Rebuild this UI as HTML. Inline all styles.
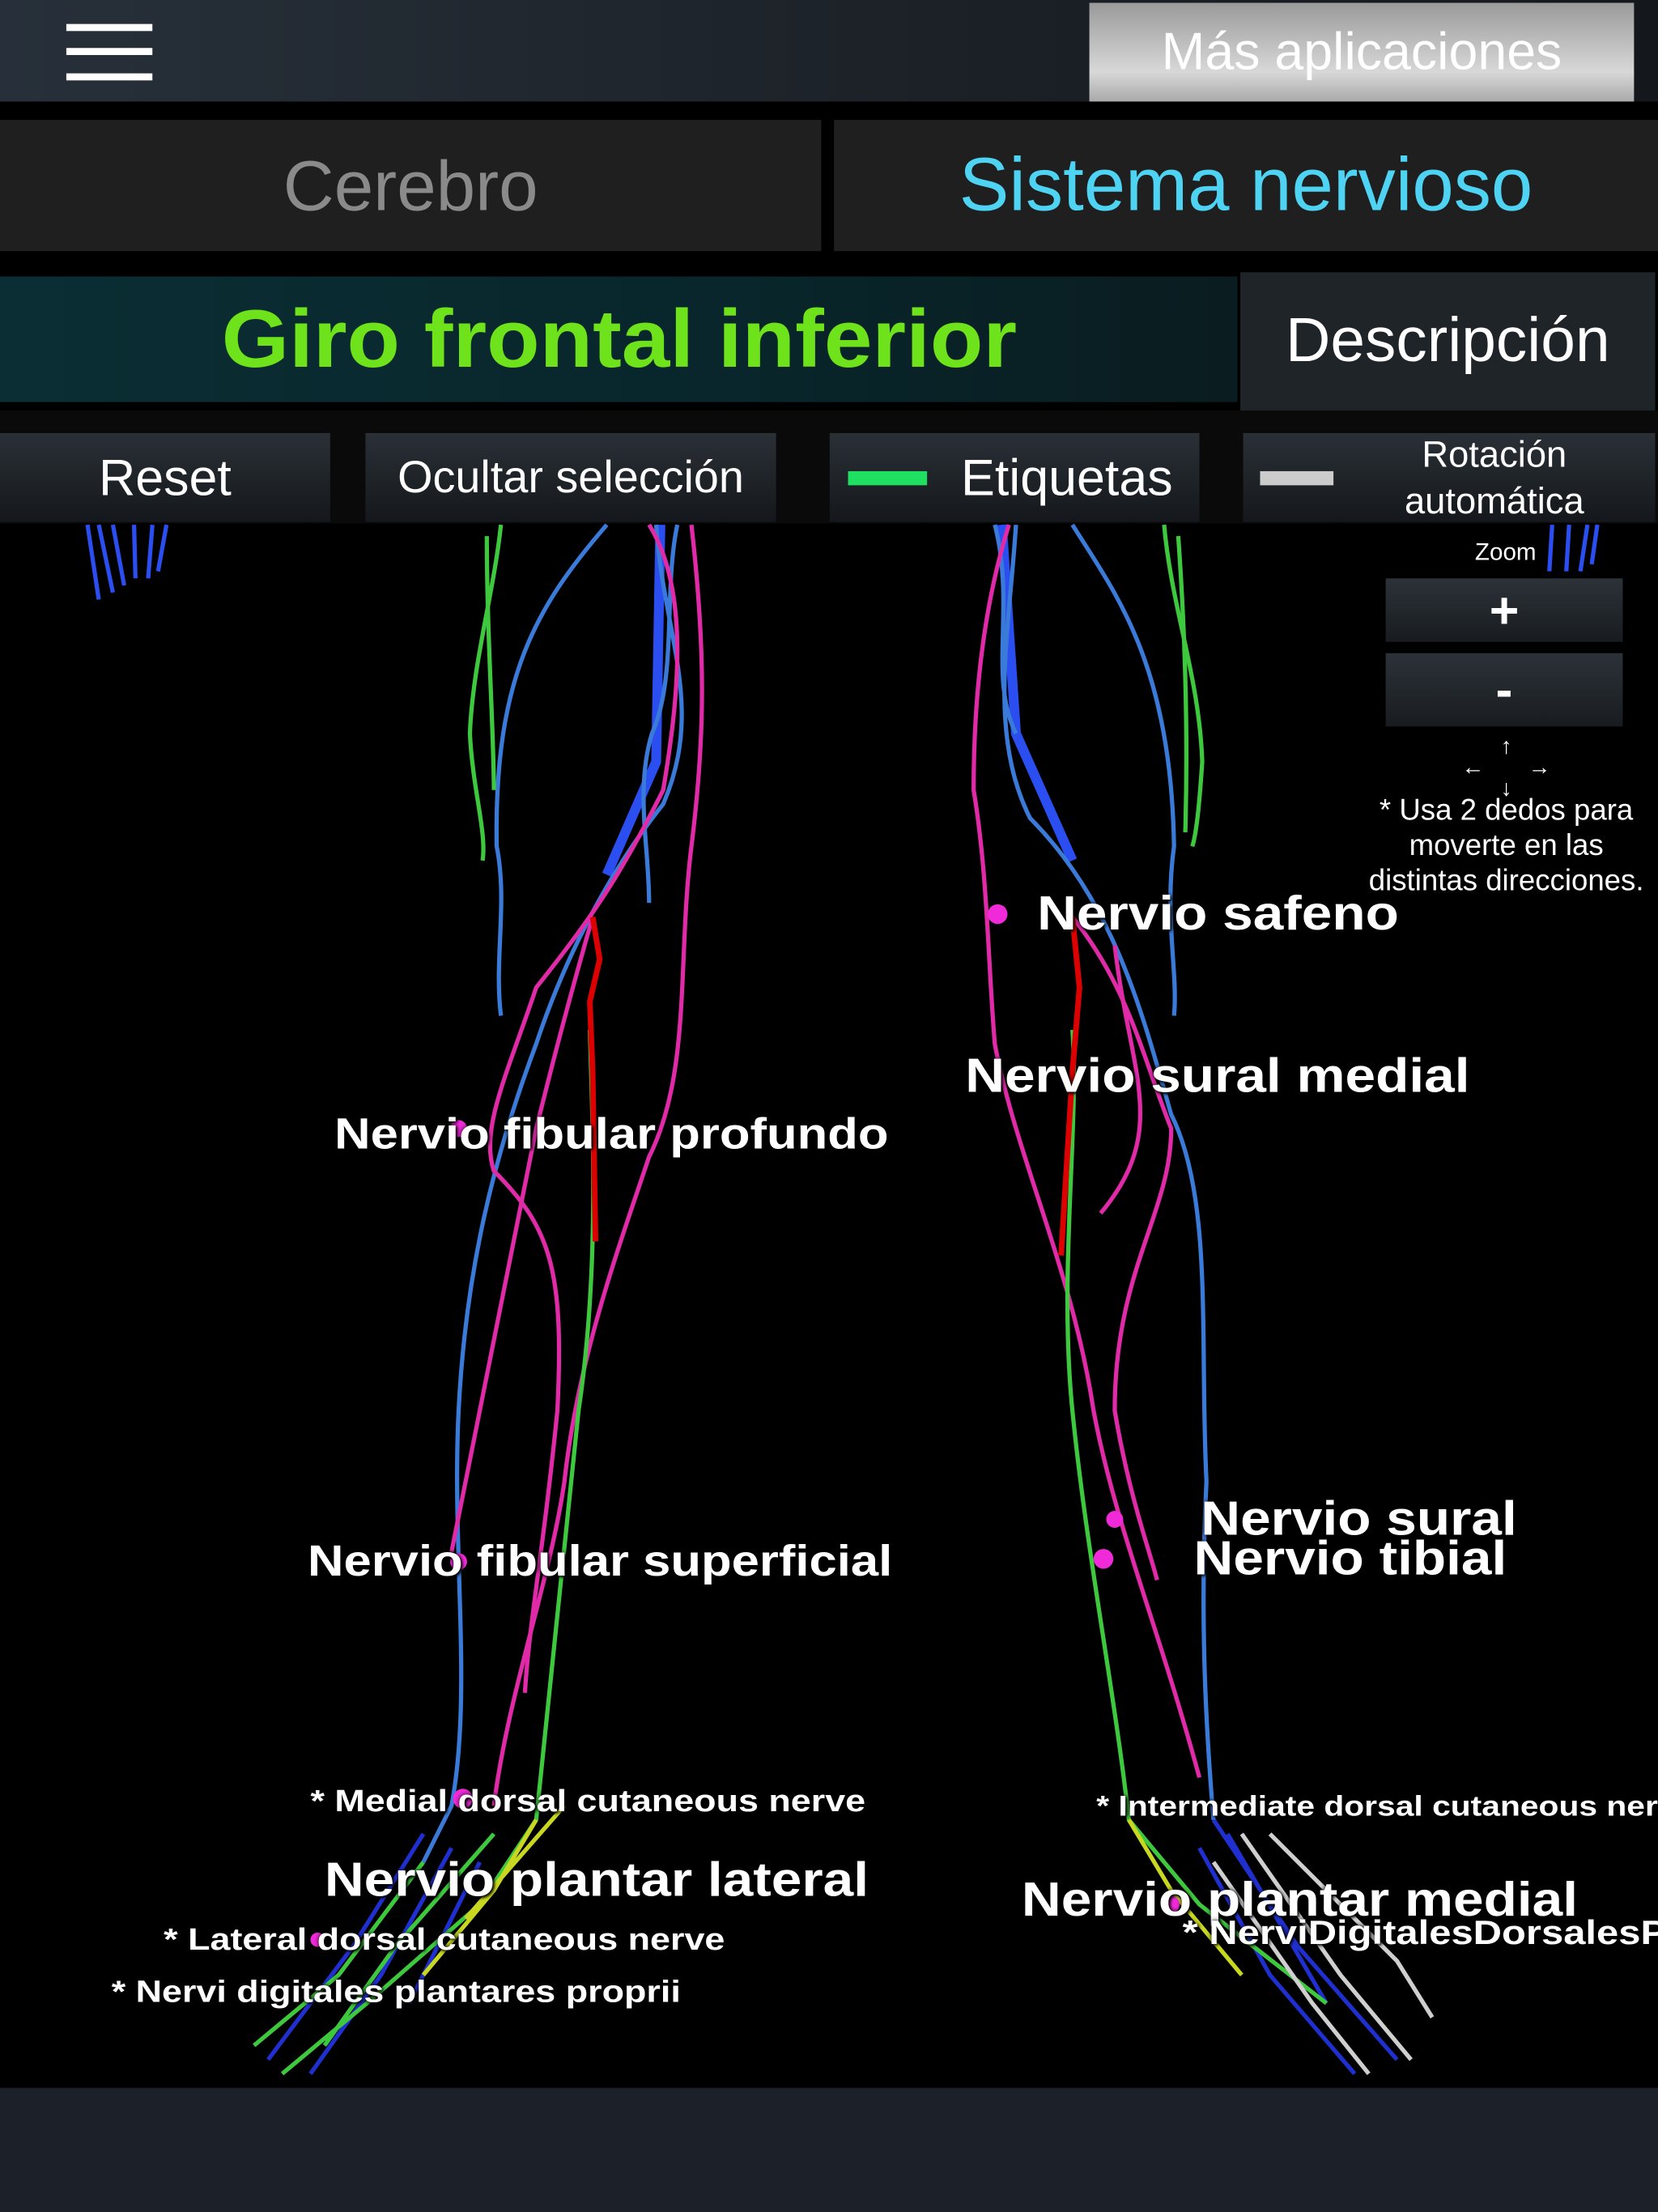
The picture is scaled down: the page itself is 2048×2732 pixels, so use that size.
<!DOCTYPE html>
<html><head><meta charset="utf-8">
<style>
html,body{margin:0;padding:0;background:#000;width:2048px;height:2732px;overflow:hidden}
#w{position:absolute;left:0;top:0;width:1175px;height:1568px;transform:scale(1.74298,1.74235);transform-origin:0 0;font-family:"Liberation Sans",sans-serif;background:#000}
.a{position:absolute}
.btn{position:absolute;color:#fff;display:flex;align-items:center;justify-content:center;background:linear-gradient(#2a3036,#14181c)}
.lb{position:absolute;color:#fff;font-weight:bold;white-space:nowrap;text-shadow:0 0 3px #000,1px 1px 2px #000;transform:scaleX(1.14);transform-origin:0 0}
.sm{transform:scaleX(1.17)}
</style></head><body><div id="w">
<div class="a" style="left:0;top:0;width:1175px;height:72px;background:linear-gradient(90deg,#27303a,#1b2026 60%,#14181c)"></div>
<div class="a" style="left:47px;top:17px;width:61px;height:5px;background:#fff"></div>
<div class="a" style="left:47px;top:34px;width:61px;height:5px;background:#fff"></div>
<div class="a" style="left:47px;top:52px;width:61px;height:5px;background:#fff"></div>
<div class="btn" style="left:772px;top:2px;width:386px;height:70px;background:linear-gradient(#9a9a9a,#d8d8d8 70%,#aaa);font-size:37px">Más aplicaciones</div>
<div class="a" style="left:0;top:72px;width:1175px;height:125px;background:#000"></div>
<div class="btn" style="left:0;top:85px;width:582px;height:93px;background:#1f1f1f;color:#8a8a8a;font-size:50px">Cerebro</div>
<div class="btn" style="left:591px;top:85px;width:584px;height:93px;background:#1f1f1f;color:#4fd3f3;font-size:53px">Sistema nervioso</div>
<div class="btn" style="left:0;top:196px;width:877px;height:89px;background:linear-gradient(90deg,#0a2e34,#08262b 60%,#0a1c20);color:#6ee21a;font-size:58px;font-weight:bold"><span style="display:inline-block;transform:scaleX(1.06)">Giro frontal inferior</span></div>
<div class="btn" style="left:879px;top:193px;width:294px;height:98px;background:#1f2428;font-size:44px">Descripción</div>
<div class="a" style="left:0;top:291px;width:1175px;height:80px;background:#0a0a0a"></div>
<div class="btn" style="left:0;top:307px;width:234px;height:63px;font-size:36px">Reset</div>
<div class="btn" style="left:259px;top:307px;width:291px;height:63px;font-size:32px">Ocultar selección</div>
<div class="btn" style="left:588px;top:307px;width:262px;height:63px;font-size:36px;justify-content:flex-start"><span style="display:inline-block;width:56px;height:10px;background:#1fe060;margin:0 24px 0 13px"></span>Etiquetas</div>
<div class="btn" style="left:881px;top:307px;width:292px;height:63px;font-size:26px;justify-content:flex-start"><span style="display:inline-block;width:52px;height:10px;background:#ccc;margin:0 0 0 12px"></span><span style="text-align:center;flex:1;line-height:33px">Rotación<br>automática</span></div>
<div class="a" style="left:0;top:1480px;width:1175px;height:88px;background:#1c2029"></div>

<svg class="a" style="left:0;top:0" width="1175" height="1568" viewBox="0 0 1175 1568" fill="none" stroke-width="3">
<g stroke="#2a4ef0"><path d="M62 372 L70 425 M70 372 L80 420 M80 372 L88 415 M95 372 L96 410 M108 372 L105 410 M118 372 L112 405"/>
<path d="M1100 372 L1098 405 M1112 372 L1110 405 M1125 372 L1120 405 M1132 372 L1128 400"/>
<path d="M468 372 L465 540 L430 620" stroke-width="7"/><path d="M710 372 L720 520 L760 610" stroke-width="7"/>
<path d="M300 1300 L250 1380 L190 1460 M320 1310 L270 1400 L220 1470 M340 1320 L290 1420" stroke="#2030d0"/>
<path d="M860 1290 L920 1380 L990 1460 M850 1310 L900 1400 L960 1470 M870 1300 L940 1420" stroke="#2030d0"/></g>
<g stroke="#3a7ad8"><path d="M430 372 C380 430 350 480 352 600 C360 640 350 680 355 720"/>
<path d="M465 372 C470 450 500 500 470 570 C430 620 400 680 380 740 C350 820 330 900 325 1000 C320 1100 335 1200 320 1280 L300 1320"/>
<path d="M480 372 C470 420 480 480 462 520 C450 560 460 600 460 640"/>
<path d="M760 372 C790 420 830 470 832 600 C825 650 835 690 832 720"/>
<path d="M720 372 C715 450 700 520 730 580 C790 640 810 720 830 790 C860 850 850 950 855 1050 C850 1150 855 1230 860 1290"/>
<path d="M705 372 C720 430 700 480 720 520"/></g>
<g stroke="#e02aa8"><path d="M490 372 C500 460 500 520 490 600 C480 680 490 760 460 820 C440 880 410 960 400 1050 C390 1120 360 1200 350 1280"/>
<path d="M460 372 C490 420 480 500 470 560 C440 620 420 650 380 700 C360 760 340 800 350 830 C390 870 400 900 395 1000 C385 1100 375 1150 372 1200"/>
<path d="M420 650 C400 720 390 760 380 800 C360 900 340 1000 320 1100"/>
<path d="M715 372 C700 420 690 480 690 560 C700 620 700 680 705 740 C720 820 760 900 775 1000 C790 1080 820 1150 850 1260"/>
<path d="M760 650 C800 700 810 750 830 800 C830 860 790 900 790 1000 C800 1060 815 1100 820 1120"/>
<path d="M790 670 C800 760 830 800 780 860"/></g>
<g stroke="#3ec83e"><path d="M355 372 C350 420 335 470 333 520 C335 560 345 590 342 610"/><path d="M345 380 C345 450 350 520 350 560"/>
<path d="M825 372 C830 430 850 480 852 540 C850 570 848 590 845 600"/><path d="M835 380 C840 450 842 520 840 590"/>
<path d="M418 730 C420 800 425 900 410 1000 C400 1100 390 1200 380 1290 L340 1350 L260 1420 L200 1470"/>
<path d="M760 730 C765 800 750 900 760 1000 C770 1100 790 1200 800 1290 L850 1350 L940 1420"/>
<path d="M350 1300 L280 1380 L230 1450 M300 1320 L240 1400 L180 1450"/></g>
<g stroke="#c8d820"><path d="M380 1290 L350 1340 L300 1400 M400 1280 L330 1360"/><path d="M800 1290 L830 1340 L880 1400"/></g>
<g stroke="#cfcfcf"><path d="M880 1300 L950 1400 L1000 1460 M860 1320 L930 1420 L970 1470 M900 1300 L990 1390 L1015 1430"/></g>
<g stroke="#d00" stroke-width="4"><path d="M420 650 L425 680 L418 710 L420 760 L422 880"/><path d="M760 650 L765 700 L760 760 L752 890"/></g>
<g fill="#f02ad8" stroke="none"><circle cx="707" cy="648" r="7"/><circle cx="325" cy="800" r="6"/><circle cx="325" cy="1107" r="6"/><circle cx="790" cy="1077" r="6"/><circle cx="782" cy="1105" r="7"/><circle cx="328" cy="1275" r="7"/><circle cx="830" cy="1350" r="6"/><circle cx="225" cy="1375" r="5"/></g>
</svg>

<div class="a" style="left:982px;top:382px;width:170px;text-align:center;color:#fff;font-size:17px">Zoom</div>
<div class="btn" style="left:982px;top:410px;width:168px;height:45px;background:linear-gradient(#2c3238,#181c20);font-size:36px;font-weight:bold">+</div>
<div class="btn" style="left:982px;top:463px;width:168px;height:52px;background:linear-gradient(#2c3238,#181c20);font-size:36px;font-weight:bold">-</div>
<div class="a" style="left:1010px;top:522px;width:115px;text-align:center;color:#fff;font-size:16px;line-height:15px">↑<br>←&nbsp;&nbsp;&nbsp;&nbsp;&nbsp;&nbsp;&nbsp;→<br>↓</div>
<div class="a" style="left:955px;top:562px;width:225px;text-align:center;color:#fff;font-size:21px;line-height:25px">* Usa 2 dedos para<br>moverte en las<br>distintas direcciones.</div>

<div class="lb" style="left:735px;top:629px;font-size:34px">Nervio safeno</div>
<div class="lb" style="left:684px;top:744px;font-size:34px">Nervio sural medial</div>
<div class="lb" style="left:237px;top:786px;font-size:31px">Nervio fibular profundo</div>
<div class="lb" style="left:218px;top:1089px;font-size:31px">Nervio fibular superficial</div>
<div class="lb" style="left:851px;top:1058px;font-size:34px">Nervio sural</div>
<div class="lb" style="left:846px;top:1086px;font-size:34px">Nervio tibial</div>
<div class="lb sm" style="left:220px;top:1264px;font-size:22px">* Medial dorsal cutaneous nerve</div>
<div class="lb sm" style="left:777px;top:1270px;font-size:20px">* Intermediate dorsal cutaneous nerve</div>
<div class="lb" style="left:230px;top:1314px;font-size:34px">Nervio plantar lateral</div>
<div class="lb" style="left:724px;top:1328px;font-size:34px">Nervio plantar medial</div>
<div class="lb sm" style="left:838px;top:1357px;font-size:24px">* NerviDigitalesDorsalesP</div>
<div class="lb sm" style="left:116px;top:1362px;font-size:22px">* Lateral dorsal cutaneous nerve</div>
<div class="lb sm" style="left:79px;top:1399px;font-size:22px">* Nervi digitales plantares proprii</div>
</div></body></html>
